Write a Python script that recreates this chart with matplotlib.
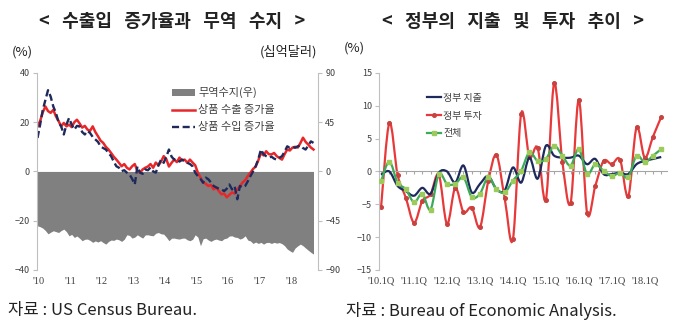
import matplotlib
matplotlib.use("Agg")
import matplotlib.pyplot as plt
from matplotlib.path import Path
from matplotlib.patches import PathPatch, Patch
from matplotlib.lines import Line2D
import numpy as np

plt.rcParams['font.family'] = ['Noto Sans CJK KR', 'DejaVu Sans']

# ---- left chart: monthly, Jan 2010 - Oct 2018 ----
trade_balance = [  # 십억달러 (right axis)
    -49.7, -50.5, -51.8, -54.0, -57.0, -55.5, -54.2, -55.0, -55.8, -54.0, -52.7, -55.0,
    -58.8, -57.5, -60.3, -59.0, -61.0, -63.3, -62.0, -61.8, -63.0, -64.8, -63.5, -64.5,
    -63.3, -65.0, -66.4, -64.0, -62.7, -63.0, -61.8, -62.5, -63.9, -62.0, -57.9, -58.5,
    -60.9, -60.0, -57.9, -59.5, -60.9, -58.0, -57.9, -58.5, -58.8, -56.5, -55.8, -57.0,
    -57.3, -60.0, -63.3, -61.0, -60.9, -61.5, -61.8, -61.0, -60.9, -62.5, -63.3, -62.0,
    -57.9, -60.0, -67.9, -61.5, -60.9, -62.7, -63.9, -62.5, -61.8, -62.7, -63.3, -61.5,
    -60.9, -59.0, -58.8, -60.0, -60.3, -61.8, -60.9, -58.8, -62.7, -63.5, -65.8, -64.5,
    -65.8, -64.8, -66.4, -65.0, -64.8, -65.8, -64.8, -65.5, -65.0, -66.0, -67.9, -70.9,
    -72.5, -73.9, -70.0, -68.0, -66.4, -67.9, -70.0, -72.0, -73.9, -75.5,
]
export_growth = [
    18.3, 20.5, 24.0, 26.4, 24.5, 23.8, 25.0, 22.4, 20.5, 18.3, 19.7, 18.3,
    19.0, 18.0, 20.0, 21.0, 19.5, 17.8, 18.5, 17.0, 16.5, 18.3, 16.0, 14.3,
    12.5, 11.6, 10.0, 8.9, 7.5, 6.0, 4.8, 3.5, 2.1, 3.0, 1.5, 0.8,
    2.1, 3.0, 0.2, -0.5, 0.8, 1.5, 2.0, 3.0, 1.5, 3.6, 2.5, 4.0,
    6.2, 5.0, 2.0, 3.5, 4.8, 3.8, 5.6, 4.5, 4.8, 3.5, 4.8, 3.6,
    2.5, -0.5, -2.5, -4.5, -5.0, -5.9, -5.5, -7.3, -6.5, -8.0, -9.3, -9.0,
    -10.5, -9.5, -8.5, -9.0, -7.3, -6.0, -4.5, -3.5, -1.9, -0.5, 1.0, 2.0,
    4.5, 7.5, 6.5, 8.2, 7.0, 6.9, 7.5, 6.2, 5.5, 4.8, 7.0, 8.9,
    8.5, 9.7, 10.0, 9.7, 11.5, 13.7, 12.0, 10.9, 9.7, 8.9,
]
import_growth = [
    13.6, 19.0, 25.0, 29.0, 33.0, 30.4, 26.4, 23.8, 20.0, 18.3, 15.0, 19.0,
    21.7, 19.0, 17.0, 18.5, 18.3, 16.0, 15.0, 16.5, 15.6, 14.0, 13.0, 12.0,
    10.2, 9.5, 8.9, 7.5, 6.2, 4.0, 2.1, 1.5, 0.1, 0.5, -0.5, -1.2,
    -3.0, -5.3, 2.0, -0.5, -1.0, 0.8, 0.5, 1.6, 0.0, -0.5, 2.5, 4.8,
    3.5, 6.0, 8.9, 6.0, 4.8, 5.0, 4.0, 4.8, 4.2, 3.5, 3.0, 2.1,
    -0.5, -1.9, -3.0, -4.6, -2.5, -3.2, -4.5, -5.9, -6.5, -7.0, -7.3, -8.0,
    -7.0, -5.3, -7.3, -6.0, -11.3, -5.9, -6.5, -5.9, -4.0, -1.9, 0.0, 2.1,
    5.0, 8.9, 7.0, 6.2, 5.6, 6.0, 5.2, 4.8, 5.5, 6.2, 8.0, 10.2,
    9.6, 10.0, 9.6, 10.2, 10.5, 9.5, 8.9, 10.5, 12.2, 11.6,
]
year_labels = ["'10", "'11", "'12", "'13", "'14", "'15", "'16", "'17", "'18"]

# ---- right chart: quarterly, 2010Q1 - 2018Q3 ----
gov_spending = [
    -0.5, 0.0, -2.2, -3.0, -3.7, -2.5, -3.4, -0.2, 0.0, -1.7, 0.9, -3.2,
    -1.9, -0.7, -2.7, -2.9, 0.6, -1.7, 2.1, -1.1, 3.9, 2.4, 2.1, 2.1,
    2.4, 1.1, 1.9, -0.4, -0.4, -0.2, -0.4, 1.1, 1.6, 1.9, 2.2,
]
gov_investment = [
    -5.4, 7.4, -0.5, -4.0, -7.8, -4.5, -3.5, -0.5, -8.0, -2.5, -6.2, -5.5,
    -8.5, -1.5, 2.5, -4.1, -10.3, 8.8, 2.2, 3.6, -4.3, 13.4, 1.5, -4.8,
    10.9, -6.3, -2.2, 1.6, 1.1, 1.8, -3.8, 6.7, 2.1, 5.3, 8.3,
]
gov_total = [
    -1.5, 1.5, -1.7, -2.7, -4.7, -3.4, -5.8, -0.4, -1.9, -1.9, -0.9, -3.9,
    -3.4, -0.9, -2.7, -3.2, -1.4, 0.1, 2.9, 1.6, 1.9, 3.9, 2.4, 0.9,
    3.4, -0.4, 1.1, 0.1, -0.7, -0.2, -0.9, 2.4, 1.4, 2.4, 3.4,
]
quarter_labels = ["'10.1Q", "'11.1Q", "'12.1Q", "'13.1Q", "'14.1Q",
                  "'15.1Q", "'16.1Q", "'17.1Q", "'18.1Q"]


def smooth_path(x, y):
    # bezier through the points, like excel's smoothed line
    n = len(x)
    verts = [(x[0], y[0])]
    codes = [Path.MOVETO]
    for i in range(n - 1):
        xa, ya = (x[i - 1], y[i - 1]) if i > 0 else (x[i], y[i])
        xb, yb = (x[i + 2], y[i + 2]) if i + 2 < n else (x[i + 1], y[i + 1])
        c1 = (x[i] + (x[i + 1] - xa) / 6, y[i] + (y[i + 1] - ya) / 6)
        c2 = (x[i + 1] - (xb - x[i]) / 6, y[i + 1] - (yb - y[i]) / 6)
        verts += [c1, c2, (x[i + 1], y[i + 1])]
        codes += [Path.CURVE4] * 3
    return Path(verts, codes)


fig = plt.figure(figsize=(6.8, 3.3), dpi=100)
tick_col = '#404040'
spine_col = '#BFBFBF'
txt_col = '#222222'

# ================= left =================
axL = fig.add_axes([0.054, 0.182, 0.414, 0.597])
axR = axL.twinx()
months = np.arange(len(export_growth))

axR.fill_between(months, 0, trade_balance, color='#808080', lw=0)
axR.set_ylim(-90, 90)
axR.set_yticks([-90, -45, 0, 45, 90])

axL.plot(months, export_growth, color='#E8272A', lw=1.8)
axL.plot(months, import_growth, color='#1F2A5C', lw=1.7, dashes=(3, 1.5))
axL.set_ylim(-40, 40)
axL.set_yticks([-40, -20, 0, 20, 40])
axL.set_xlim(-0.3, 106.8)
axL.set_xticks(np.arange(len(year_labels)) * 12 + 0.5)
axL.set_xticklabels(year_labels, family='Liberation Serif')
axL.set_zorder(axR.get_zorder() + 1)
axL.patch.set_visible(False)

for a in (axL, axR):
    for s in ('top', 'bottom'):
        a.spines[s].set_visible(False)
    a.spines['left'].set_color(spine_col)
    a.spines['right'].set_color(spine_col)
    a.tick_params(axis='y', labelsize=6.5, colors=tick_col, length=3,
                  color=spine_col, pad=2)
axL.spines['right'].set_visible(False)
axR.spines['left'].set_visible(False)
axL.tick_params(axis='x', length=0, labelsize=7.5, colors=tick_col, pad=5)

handlesL = [Patch(facecolor='#808080', edgecolor='none'),
            Line2D([], [], color='#E8272A', lw=1.8),
            Line2D([], [], color='#1F2A5C', lw=1.7, dashes=(3, 1.5))]
legL = axL.legend(handlesL, ['무역수지(우)', '상품 수출 증가율', '상품 수입 증가율'],
                  loc='upper left', bbox_to_anchor=(0.46, 0.955), frameon=False,
                  fontsize=8, handlelength=2.1, handleheight=0.5,
                  handletextpad=0.3, labelspacing=0.62, borderpad=0)
for t in legL.get_texts():
    t.set_color('#404040')

fig.text(0.253, 0.935, '<   수출입   증가율과   무역   수지   >',
         ha='center', va='center', fontsize=13, fontweight='bold', color=txt_col)
fig.text(0.018, 0.842, '(%)', ha='left', va='center', fontsize=9.5, color=txt_col)
fig.text(0.466, 0.842, '(십억달러)', ha='right', va='center', fontsize=9.5, color=txt_col)
fig.text(0.012, 0.058, '자료 : US Census Bureau.', ha='left', va='center',
         fontsize=12, color=txt_col)

# ================= right =================
ax = fig.add_axes([0.5574, 0.182, 0.4235, 0.597])
quarters = np.arange(len(gov_total))

ax.add_patch(PathPatch(smooth_path(quarters, gov_spending), fill=False,
                       edgecolor='#1F2A5C', lw=1.6, zorder=3))
ax.add_patch(PathPatch(smooth_path(quarters, gov_investment), fill=False,
                       edgecolor='#E8393A', lw=1.6, zorder=2))
ax.plot(quarters, gov_investment, ls='none', marker='o', ms=2.6,
        color='#C8423F', zorder=2.5)
ax.add_patch(PathPatch(smooth_path(quarters, gov_total), fill=False,
                       edgecolor='#3DAA5A', lw=1.6, zorder=4))
ax.plot(quarters, gov_total, ls='none', marker='s', ms=3.2,
        color='#9CCB5C', zorder=4.5)

ax.set_xlim(-0.25, 34.7)
ax.set_ylim(-15, 15)
ax.set_yticks([-15, -10, -5, 0, 5, 10, 15])
for s in ('top', 'right'):
    ax.spines[s].set_visible(False)
ax.spines['left'].set_color(spine_col)
ax.spines['bottom'].set_position(('data', 0))
ax.spines['bottom'].set_color('#A6A6A6')
ax.set_xticks(quarters)
ax.set_xticklabels([])
ax.tick_params(axis='x', length=2.5, color='#A6A6A6', direction='out')
ax.tick_params(axis='y', labelsize=6.5, colors=tick_col, length=3,
               color=spine_col, pad=2)

sec = ax.secondary_xaxis('bottom')
sec.spines['bottom'].set_visible(False)
sec.set_xticks(np.arange(len(quarter_labels)) * 4)
sec.set_xticklabels(quarter_labels, family='Liberation Serif')
sec.tick_params(length=0, labelsize=7.5, colors=tick_col, pad=5)

handlesR = [Line2D([], [], color='#1F2A5C', lw=1.6),
            Line2D([], [], color='#E8393A', lw=1.6, marker='o', ms=2.6,
                   mfc='#C8423F', mec='#C8423F'),
            Line2D([], [], color='#3DAA5A', lw=1.6, marker='s', ms=3.2,
                   mfc='#9CCB5C', mec='#9CCB5C')]
legR = ax.legend(handlesR, ['정부 지출', '정부 투자', '전체'], loc='upper left',
                 bbox_to_anchor=(0.15, 0.925), frameon=False, fontsize=7.2,
                 handlelength=1.4, handletextpad=0.2, labelspacing=0.78,
                 borderpad=0)
for t in legR.get_texts():
    t.set_color('#404040')

fig.text(0.754, 0.935, '<   정부의   지출   및   투자   추이   >',
         ha='center', va='center', fontsize=13, fontweight='bold', color=txt_col)
fig.text(0.506, 0.855, '(%)', ha='left', va='center', fontsize=9.5, color=txt_col)
fig.text(0.509, 0.058, '자료 : Bureau of Economic Analysis.', ha='left', va='center',
         fontsize=12, color=txt_col)

fig.savefig('out.png', dpi=100)
